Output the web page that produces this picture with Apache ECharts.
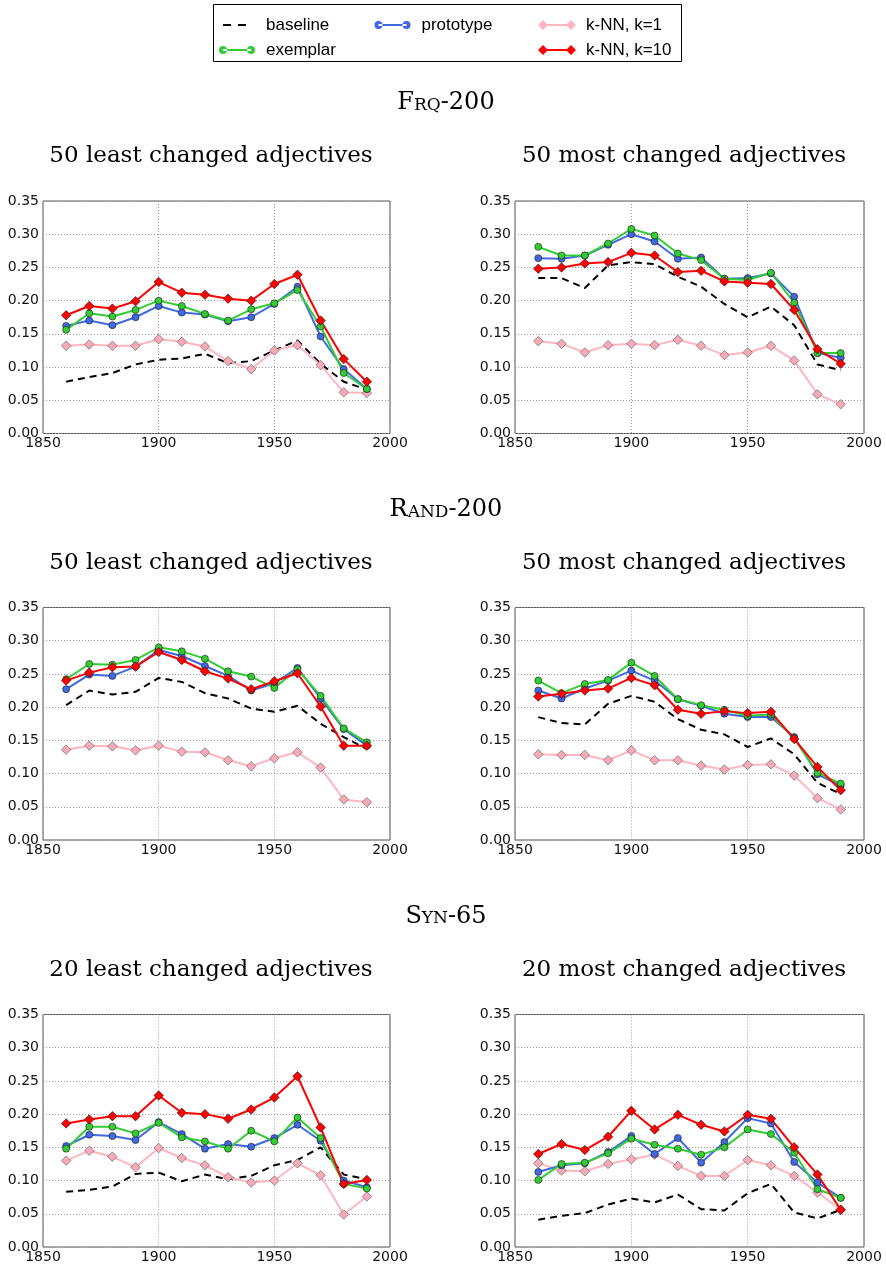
<!DOCTYPE html>
<html>
<head>
<meta charset="utf-8">
<script src="https://cdn.jsdelivr.net/npm/echarts@6.0.0/dist/echarts.min.js"></script>
<style>
html,body{margin:0;padding:0;background:#fff;}
#chart{width:886px;height:1264px;}
</style>
</head>
<body>
<div id="chart"></div>
<script>
// ---------------- DATA ----------------
const years = [1860,1870,1880,1890,1900,1910,1920,1930,1940,1950,1960,1970,1980,1990];
const xTicks = [1850, 1900, 1950, 2000];
const yTicks = [0.00, 0.05, 0.10, 0.15, 0.20, 0.25, 0.30, 0.35];

const sectionTitles = [['F','RQ','-200'], ['R','AND','-200'], ['S','YN','-65']];
const panelTitles = [
  '50 least changed adjectives', '50 most changed adjectives',
  '50 least changed adjectives', '50 most changed adjectives',
  '20 least changed adjectives', '20 most changed adjectives'
];
const seriesNames = ['baseline', 'exemplar', 'prototype', 'k-NN, k=1', 'k-NN, k=10'];

// Frq-200, 50 least changed
const frqLeastBaseline  = [0.078,0.085,0.091,0.104,0.111,0.113,0.120,0.106,0.109,0.125,0.140,0.105,0.078,0.066];
const frqLeastPrototype = [0.162,0.170,0.163,0.175,0.192,0.182,0.179,0.169,0.175,0.195,0.221,0.146,0.097,0.067];
const frqLeastExemplar  = [0.156,0.181,0.176,0.186,0.200,0.192,0.180,0.170,0.187,0.196,0.216,0.161,0.091,0.067];
const frqLeastKnn1      = [0.132,0.134,0.132,0.132,0.142,0.138,0.131,0.109,0.097,0.125,0.133,0.103,0.062,0.061];
const frqLeastKnn10     = [0.178,0.192,0.188,0.199,0.228,0.212,0.209,0.203,0.200,0.225,0.239,0.170,0.112,0.078];
// Frq-200, 50 most changed
const frqMostBaseline  = [0.234,0.234,0.219,0.253,0.258,0.255,0.236,0.221,0.195,0.175,0.191,0.163,0.104,0.095];
const frqMostPrototype = [0.264,0.263,0.268,0.284,0.300,0.289,0.263,0.265,0.233,0.234,0.241,0.206,0.121,0.114];
const frqMostExemplar  = [0.281,0.268,0.268,0.286,0.308,0.298,0.271,0.261,0.233,0.231,0.242,0.197,0.121,0.121];
const frqMostKnn1      = [0.139,0.135,0.122,0.133,0.135,0.133,0.141,0.132,0.118,0.122,0.132,0.110,0.059,0.044];
const frqMostKnn10     = [0.248,0.250,0.256,0.258,0.272,0.268,0.243,0.245,0.229,0.227,0.225,0.186,0.127,0.105];
// Rand-200, 50 least changed
const randLeastBaseline  = [0.203,0.225,0.219,0.223,0.244,0.238,0.221,0.213,0.198,0.193,0.202,0.175,0.155,0.137];
const randLeastPrototype = [0.227,0.249,0.247,0.261,0.286,0.277,0.262,0.247,0.225,0.236,0.259,0.213,0.167,0.142];
const randLeastExemplar  = [0.242,0.265,0.264,0.271,0.290,0.284,0.273,0.254,0.246,0.229,0.257,0.217,0.168,0.147];
const randLeastKnn1      = [0.136,0.142,0.141,0.135,0.142,0.133,0.132,0.120,0.111,0.123,0.132,0.109,0.061,0.057];
const randLeastKnn10     = [0.240,0.252,0.260,0.261,0.283,0.271,0.254,0.243,0.227,0.239,0.251,0.201,0.142,0.142];
// Rand-200, 50 most changed
const randMostBaseline  = [0.185,0.176,0.174,0.205,0.217,0.208,0.182,0.166,0.159,0.140,0.153,0.129,0.086,0.069];
const randMostPrototype = [0.225,0.213,0.228,0.240,0.255,0.240,0.212,0.202,0.190,0.185,0.185,0.155,0.099,0.082];
const randMostExemplar  = [0.240,0.221,0.235,0.241,0.267,0.247,0.212,0.203,0.196,0.187,0.189,0.153,0.101,0.085];
const randMostKnn1      = [0.129,0.128,0.128,0.120,0.135,0.120,0.120,0.112,0.106,0.113,0.114,0.097,0.063,0.046];
const randMostKnn10     = [0.216,0.220,0.225,0.228,0.244,0.233,0.196,0.190,0.194,0.191,0.193,0.152,0.110,0.075];
// Syn-65, 20 least changed
const synLeastBaseline  = [0.083,0.086,0.091,0.110,0.112,0.099,0.109,0.102,0.107,0.123,0.131,0.150,0.109,0.102];
const synLeastPrototype = [0.152,0.169,0.167,0.161,0.188,0.170,0.148,0.155,0.151,0.164,0.184,0.160,0.100,0.090];
const synLeastExemplar  = [0.148,0.181,0.181,0.171,0.187,0.165,0.159,0.148,0.175,0.159,0.195,0.164,0.095,0.088];
const synLeastKnn1      = [0.130,0.145,0.136,0.120,0.149,0.134,0.123,0.105,0.097,0.100,0.126,0.108,0.049,0.076];
const synLeastKnn10     = [0.186,0.192,0.197,0.197,0.228,0.202,0.200,0.193,0.207,0.225,0.257,0.180,0.095,0.101];
// Syn-65, 20 most changed
const synMostBaseline  = [0.041,0.047,0.051,0.064,0.073,0.067,0.079,0.057,0.055,0.081,0.095,0.052,0.043,0.056];
const synMostPrototype = [0.113,0.123,0.126,0.143,0.167,0.140,0.164,0.127,0.158,0.194,0.186,0.128,0.097,0.074];
const synMostExemplar  = [0.101,0.125,0.127,0.141,0.163,0.154,0.148,0.139,0.150,0.177,0.170,0.142,0.087,0.074];
const synMostKnn1      = [0.126,0.115,0.114,0.125,0.132,0.139,0.122,0.107,0.107,0.131,0.123,0.107,0.082,0.056];
const synMostKnn10     = [0.140,0.155,0.146,0.166,0.205,0.177,0.199,0.184,0.174,0.199,0.193,0.150,0.109,0.056];

// ---------------- BUILD ----------------
const panelData = [
  {baseline: frqLeastBaseline, prototype: frqLeastPrototype, exemplar: frqLeastExemplar, knn1: frqLeastKnn1, knn10: frqLeastKnn10},
  {baseline: frqMostBaseline, prototype: frqMostPrototype, exemplar: frqMostExemplar, knn1: frqMostKnn1, knn10: frqMostKnn10},
  {baseline: randLeastBaseline, prototype: randLeastPrototype, exemplar: randLeastExemplar, knn1: randLeastKnn1, knn10: randLeastKnn10},
  {baseline: randMostBaseline, prototype: randMostPrototype, exemplar: randMostExemplar, knn1: randMostKnn1, knn10: randMostKnn10},
  {baseline: synLeastBaseline, prototype: synLeastPrototype, exemplar: synLeastExemplar, knn1: synLeastKnn1, knn10: synLeastKnn10},
  {baseline: synMostBaseline, prototype: synMostPrototype, exemplar: synMostExemplar, knn1: synMostKnn1, knn10: synMostKnn10}
];

const COL_LEFT = [43, 515];
const COL_WIDTH = [347, 349];
const ROW_TOP = [201, 607.5, 1014.5];
const ROW_STEP = 406.7;
const GRID_H = 232.5;
const SERIF = 'DejaVu Serif';

const styles = {
  baseline: {name: 'baseline', symbol: 'none', color: '#000000',
    lineStyle: {color: '#000000', width: 2, type: [7, 5]}},
  prototype: {name: 'prototype', symbol: 'circle', symbolSize: 7, color: '#4169e1',
    lineStyle: {color: '#4169e1', width: 2},
    itemStyle: {color: '#4169e1', borderColor: '#1a1a1a', borderWidth: 0.6}},
  exemplar: {name: 'exemplar', symbol: 'circle', symbolSize: 7, color: '#32cd32',
    lineStyle: {color: '#32cd32', width: 2},
    itemStyle: {color: '#32cd32', borderColor: '#1a1a1a', borderWidth: 0.6}},
  knn1: {name: 'k-NN, k=1', symbol: 'diamond', symbolSize: 9.5, color: '#ffb6c1',
    lineStyle: {color: '#ffb6c1', width: 2},
    itemStyle: {color: '#f9aab8', borderColor: '#555555', borderWidth: 0.6}},
  knn10: {name: 'k-NN, k=10', symbol: 'diamond', symbolSize: 9.5, color: '#ff0000',
    lineStyle: {color: '#ff0000', width: 2},
    itemStyle: {color: '#ff0000', borderColor: '#1a1a1a', borderWidth: 0.6}}
};
const drawOrder = ['baseline', 'knn1', 'prototype', 'exemplar', 'knn10'];

const grids = [], xAxes = [], yAxes = [], series = [], titles = [];
const axisLabelFont = {fontFamily: 'DejaVu Sans', fontSize: 14, color: '#111'};
const gridLine = {show: true, lineStyle: {color: '#999', width: 1, type: [1, 2]}};

for (let p = 0; p < 6; p++) {
  const row = Math.floor(p / 2), col = p % 2;
  grids.push({left: COL_LEFT[col], top: ROW_TOP[row], width: COL_WIDTH[col], height: GRID_H,
    show: true, borderColor: '#555', borderWidth: 1, backgroundColor: 'transparent', containLabel: false});
  xAxes.push({type: 'value', gridIndex: p, min: xTicks[0], max: xTicks[xTicks.length - 1], interval: 50,
    axisLine: {show: false}, axisTick: {show: false}, splitLine: gridLine,
    axisLabel: Object.assign({margin: 3, showMinLabel: true, showMaxLabel: true,
      formatter: v => String(v)}, axisLabelFont)});
  yAxes.push({type: 'value', gridIndex: p, min: yTicks[0], max: yTicks[yTicks.length - 1], interval: 0.05,
    axisLine: {show: false}, axisTick: {show: false}, splitLine: gridLine,
    axisLabel: Object.assign({margin: 4, showMinLabel: true, showMaxLabel: true,
      formatter: v => v.toFixed(2)}, axisLabelFont)});
  drawOrder.forEach(key => {
    const st = styles[key];
    const arr = panelData[p][key];
    series.push({
      name: st.name, type: 'line', xAxisIndex: p, yAxisIndex: p,
      data: years.map((y, i) => [y, arr[i]]),
      symbol: st.symbol, symbolSize: st.symbolSize || 0, showSymbol: st.symbol !== 'none',
      lineStyle: st.lineStyle,
      itemStyle: st.itemStyle || {color: st.color},
      emphasis: {disabled: true}, animation: false, clip: true
    });
  });
  const cx = col === 0 ? 211 : 684;
  titles.push({text: panelTitles[p], left: cx, top: 145 + row * ROW_STEP, textAlign: 'center', padding: 0,
    textStyle: {fontFamily: SERIF, fontSize: 23, fontWeight: 'normal', color: '#000'}});
}
for (let r = 0; r < 3; r++) {
  const t = sectionTitles[r];
  titles.push({text: '{a|' + t[0] + '}{b|' + t[1] + '}{a|' + t[2] + '}', left: 446, top: 91 + r * ROW_STEP,
    textAlign: 'center', padding: 0,
    textStyle: {fontWeight: 'normal', fontFamily: SERIF, rich: {
      a: {fontFamily: SERIF, fontSize: 24, fontWeight: 'normal', color: '#000', verticalAlign: 'bottom'},
      b: {fontFamily: SERIF, fontSize: 17, fontWeight: 'normal', color: '#000', verticalAlign: 'bottom', padding: [0, 0, 1, 0]}
    }}});
}

// legend icons (bbox 0..43 x 0..10; markers centred at x=5 and x=33)
const corners = 'M0,0L0,0.01M43,10L43,9.99';
const icons = {
  baseline: 'path://' + corners + 'M5,4L13,4L13,6L5,6ZM20,4L28,4L28,6L20,6Z',
  circle: 'path://' + corners + 'M1,5A4,4 0 1 0 9,5A4,4 0 1 0 1,5Z' +
          'M5,4L33,4L33,6L5,6Z' + 'M29,5A4,4 0 1 0 37,5A4,4 0 1 0 29,5Z',
  diamond: 'path://' + corners + 'M0,5L5,0L10,5L5,10Z' + 'M5,4L33,4L33,6L5,6Z' + 'M28,5L33,0L38,5L33,10Z'
};
const legendFont = {fontFamily: 'Liberation Sans', fontSize: 17, color: '#000'};
function legendItem(name, icon, color, left, top) {
  return {data: [{name: name, icon: icon, itemStyle: {color: color, borderWidth: 0}}],
    left: left, top: top, itemWidth: 43, itemHeight: 10, padding: 0, selectedMode: false,
    textStyle: legendFont};
}
const legends = [
  legendItem('baseline', icons.baseline, '#000000', 218, 16.5),
  legendItem('exemplar', icons.circle, '#32cd32', 218, 41.5),
  legendItem('prototype', icons.circle, '#4169e1', 373.5, 16.5),
  legendItem('k-NN, k=1', icons.diamond, '#ffb6c1', 538, 16.5),
  legendItem('k-NN, k=10', icons.diamond, '#ff0000', 538, 41.5)
];

const chart = echarts.init(document.getElementById('chart'), null, {renderer: 'canvas', width: 886, height: 1264});
chart.setOption({
  backgroundColor: '#ffffff',
  animation: false,
  title: titles,
  legend: legends,
  grid: grids,
  xAxis: xAxes,
  yAxis: yAxes,
  series: series,
  graphic: [{type: 'rect', shape: {x: 213.5, y: 4.5, width: 468, height: 57},
    style: {fill: 'none', stroke: '#000', lineWidth: 1}, silent: true, z: 100}]
});
</script>
</body>
</html>
